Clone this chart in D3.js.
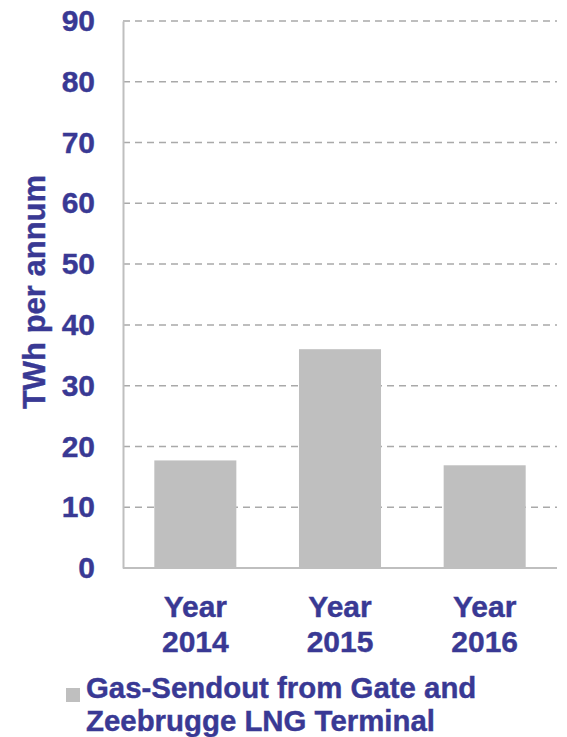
<!DOCTYPE html>
<html>
<head>
<meta charset="utf-8">
<script src="https://cdn.jsdelivr.net/npm/d3@7/dist/d3.min.js"></script>
<style>
  html, body { margin: 0; padding: 0; background: #fff; }
  svg { display: block; font-family: "Liberation Sans", Arial, sans-serif; font-weight: bold; }
  .lbl { stroke: #393994; stroke-width: 0.4; }
</style>
</head>
<body>
<svg id="chart" width="567" height="737"></svg>
<script>
// Data
const categories = [["Year", "2014"], ["Year", "2015"], ["Year", "2016"]];
const values = [17.7, 36.0, 16.9];
const yTicks = [0, 10, 20, 30, 40, 50, 60, 70, 80, 90];
const yTitle = "TWh per annum";
const legendLines = ["Gas-Sendout from Gate and", "Zeebrugge LNG Terminal"];

// Config
const TEXT = "#393994";
const BAR = "#bfbfbf";
const GRID = "#a9a9a9";
const AXIS = "#bfbfbf";
const MARGIN = { left: 123, right: 10, top: 21, bottom: 169 };
const W = 567, H = 737;
const innerW = W - MARGIN.left - MARGIN.right;
const innerH = H - MARGIN.top - MARGIN.bottom;

const svg = d3.select("#chart");
const g = svg.append("g").attr("transform", `translate(${MARGIN.left},${MARGIN.top})`);

const keys = categories.map((c) => c.join(" "));
const x = d3.scaleBand().domain(keys).range([0, innerW]).paddingInner(0.433).paddingOuter(0.2165);
const y = d3.scaleLinear().domain([0, 90]).range([innerH, 0]);

// Grid
g.append("g")
  .selectAll("line")
  .data(yTicks.filter((t) => t > 0))
  .join("line")
  .attr("x1", 0)
  .attr("x2", innerW)
  .attr("y1", (d) => y(d))
  .attr("y2", (d) => y(d))
  .attr("stroke", GRID)
  .attr("stroke-width", 1.5)
  .attr("stroke-dasharray", "7,5");

// Bars
g.append("g")
  .selectAll("rect")
  .data(values)
  .join("rect")
  .attr("x", (d, i) => x(keys[i]))
  .attr("y", (d) => y(d))
  .attr("width", x.bandwidth())
  .attr("height", (d) => innerH - y(d))
  .attr("fill", BAR);

// Y axis
const yAxis = g.append("g")
  .call(d3.axisLeft(y).tickValues(yTicks).tickSize(0).tickPadding(28).tickFormat(d3.format("d")));
yAxis.select(".domain").attr("stroke", AXIS).attr("stroke-width", 2);
yAxis.selectAll("text")
  .attr("class", "lbl")
  .attr("fill", TEXT)
  .attr("font-size", 30)
  .attr("font-family", "Liberation Sans, Arial, sans-serif")
  .attr("font-weight", "bold");

// X axis line
g.append("line")
  .attr("x1", 0).attr("x2", innerW)
  .attr("y1", innerH).attr("y2", innerH)
  .attr("stroke", AXIS).attr("stroke-width", 2);

// X labels
const xl = g.append("g")
  .selectAll("text")
  .data(categories)
  .join("text")
  .attr("class", "lbl")
  .attr("x", (d, i) => x(keys[i]) + x.bandwidth() / 2)
  .attr("y", innerH + 49)
  .attr("text-anchor", "middle")
  .attr("fill", TEXT)
  .attr("font-size", 30);
xl.selectAll("tspan")
  .data((d) => d)
  .join("tspan")
  .attr("x", function () { return this.parentNode.getAttribute("x"); })
  .attr("dy", (d, i) => (i === 0 ? 0 : 35))
  .text((d) => d);

// Y title
svg.append("text")
  .attr("class", "lbl")
  .attr("transform", `translate(45,${292}) rotate(-90)`)
  .attr("text-anchor", "middle")
  .attr("fill", TEXT)
  .attr("font-size", 31)
  .text(yTitle);

// Legend
svg.append("rect")
  .attr("x", 66).attr("y", 688)
  .attr("width", 14).attr("height", 14)
  .attr("fill", BAR);
svg.append("text")
  .attr("class", "lbl")
  .attr("fill", TEXT)
  .attr("font-size", 29.4)
  .selectAll("tspan")
  .data(legendLines)
  .join("tspan")
  .attr("x", 86)
  .attr("y", (d, i) => 698 + i * 33)
  .text((d) => d);
</script>
</body>
</html>
